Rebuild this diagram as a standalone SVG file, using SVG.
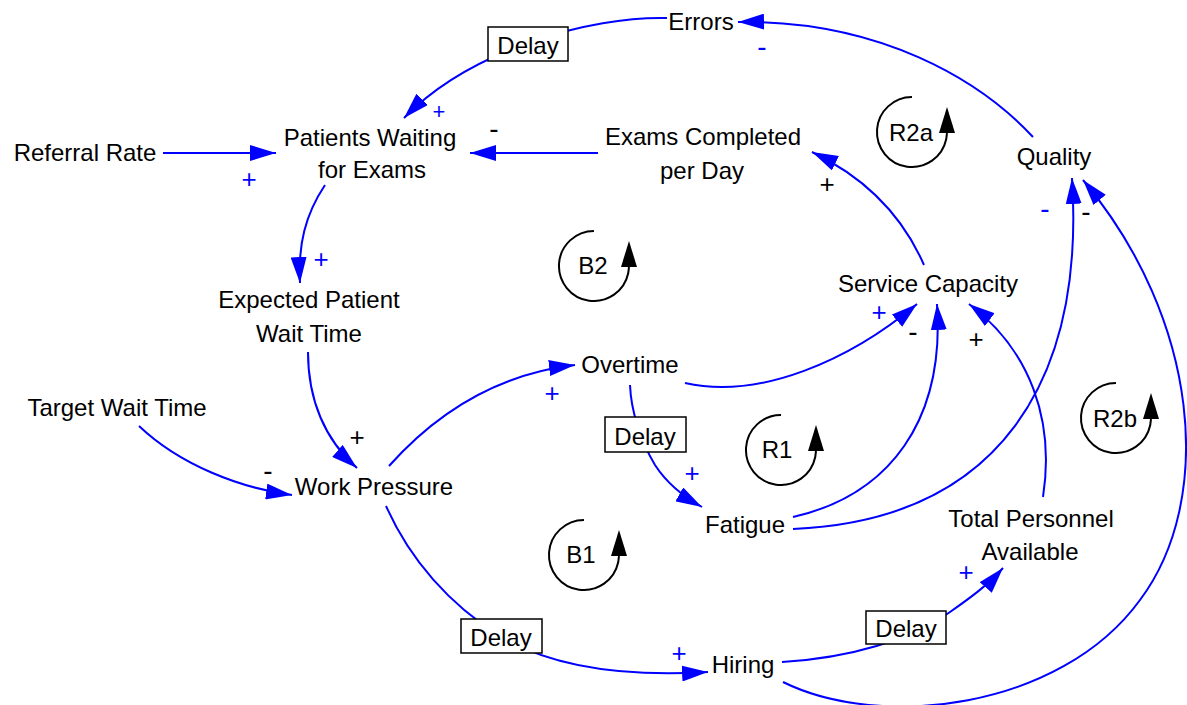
<svg xmlns="http://www.w3.org/2000/svg" width="1187" height="705" viewBox="0 0 1187 705">
<defs>
<marker id="arr" markerUnits="userSpaceOnUse" markerWidth="26" markerHeight="16" refX="26" refY="8" orient="auto"><path d="M0,0 L26,8 L0,16 z" fill="#0000FF"/></marker>
</defs>
<style>
text{font-family:"Liberation Sans",Arial,sans-serif;font-size:24px;fill:#000;text-anchor:middle}
.c{fill:none;stroke:#0000FF;stroke-width:2;marker-end:url(#arr)}
.s{font-size:26px}
.m{font-size:28px}
.b{fill:#0000FF}
.box{fill:#fff;stroke:#000;stroke-width:1.5}
.loop{fill:none;stroke:#000;stroke-width:2}
.lh{fill:#000}
</style>
<rect width="1187" height="705" fill="#fff"/>
<g id="connectors">
<path class="c" d="M667,18 C590,16 470,50 404,118"/>
<path class="c" d="M598,153 L470,153"/>
<path class="c" d="M163,153 L276,153"/>
<path class="c" d="M325,185 C305,215 298,245 300,283"/>
<path class="c" d="M308,352 C308,400 325,440 357,468"/>
<path class="c" d="M139,426 C180,465 240,488 292,495"/>
<path class="c" d="M389,466 C430,420 490,375 575,365"/>
<path class="c" d="M386,506 C410,560 450,605 500,636 C560,672 640,676 708,672"/>
<path class="c" d="M630,385 C631,410 640,440 655,465 C668,485 684,497 702,507"/>
<path class="c" d="M685,383 C760,400 850,360 917,304"/>
<path class="c" d="M793,517 C890,495 945,420 937,304"/>
<path class="c" d="M793,529 C1000,520 1085,380 1072,178"/>
<path class="c" d="M783,682 C880,730 1060,710 1140,600 C1215,500 1200,320 1083,180"/>
<path class="c" d="M782,662 C850,658 910,640 950,612 C970,598 988,585 1003,568"/>
<path class="c" d="M1043,497 C1055,420 1030,350 969,304"/>
<path class="c" d="M924,265 C900,210 860,175 812,152"/>
<path class="c" d="M1033,137 C980,80 880,20 738,22"/>
</g>
<g id="signs">
<text class="b" style="font-size:22px" x="439" y="119">+</text>
<text class="m b" x="762" y="56">-</text>
<text class="m" x="494" y="138">-</text>
<text class="s b" x="249" y="188">+</text>
<text class="s b" x="321" y="268">+</text>
<text class="s" x="357" y="446">+</text>
<text class="m" x="268" y="480">-</text>
<text class="s b" x="552" y="402">+</text>
<text class="s b" x="679" y="662">+</text>
<text class="s b" x="692" y="482">+</text>
<text class="s b" x="879" y="321">+</text>
<text class="m" x="913" y="341">-</text>
<text class="m b" x="1045" y="218">-</text>
<text class="m" x="1086" y="221">-</text>
<text class="s b" x="966" y="581">+</text>
<text class="s" x="976" y="348">+</text>
<text class="s" x="827" y="193">+</text>
</g>
<g id="delay1"><rect class="box" x="488" y="27" width="80" height="34"/><text x="528" y="54">Delay</text></g>
<g id="delay2"><rect class="box" x="605" y="417" width="81" height="35"/><text x="645" y="445">Delay</text></g>
<g id="delay3"><rect class="box" x="461" y="619" width="81" height="34"/><text x="501" y="646">Delay</text></g>
<g id="delay4"><rect class="box" x="866" y="611" width="80" height="33"/><text x="906" y="637">Delay</text></g>
<g id="errors"><text x="701" y="30">Errors</text></g>
<g id="patients"><text x="370" y="146">Patients Waiting</text><text x="372" y="178">for Exams</text></g>
<g id="referral"><text x="85" y="161">Referral Rate</text></g>
<g id="exams"><text x="703" y="145">Exams Completed</text><text x="702" y="179">per Day</text></g>
<g id="quality"><text x="1054" y="165">Quality</text></g>
<g id="service"><text x="928" y="292">Service Capacity</text></g>
<g id="expected"><text x="309" y="308">Expected Patient</text><text x="309" y="342">Wait Time</text></g>
<g id="target"><text x="117" y="416">Target Wait Time</text></g>
<g id="workpressure"><text x="374" y="495">Work Pressure</text></g>
<g id="overtime"><text x="630" y="373">Overtime</text></g>
<g id="fatigue"><text x="745" y="533">Fatigue</text></g>
<g id="hiring"><text x="743" y="673">Hiring</text></g>
<g id="personnel"><text x="1031" y="527">Total Personnel</text><text x="1030" y="560">Available</text></g>
<g id="loopR2a"><path class="loop" d="M912,97 A35,35 0 1 0 946.2,139.3 L947,133"/><polygon class="lh" points="947,107 939,133 955,133"/><text x="911" y="141">R2a</text></g>
<g id="loopB2"><path class="loop" d="M594,231 A35,35 0 1 0 628.2,273.3 L629,267"/><polygon class="lh" points="629,241 621,267 637,267"/><text x="593" y="274">B2</text></g>
<g id="loopR1"><path class="loop" d="M781,415 A35,35 0 1 0 815.2,457.3 L816,451"/><polygon class="lh" points="816,425 808,451 824,451"/><text x="777" y="458">R1</text></g>
<g id="loopB1"><path class="loop" d="M584,520 A35,35 0 1 0 618.2,562.3 L619,556"/><polygon class="lh" points="619,530 611,556 627,556"/><text x="581" y="563">B1</text></g>
<g id="loopR2b"><path class="loop" d="M1116,383 A35,35 0 1 0 1150.2,425.3 L1151,419"/><polygon class="lh" points="1151,393 1143,419 1159,419"/><text x="1115" y="427">R2b</text></g>
</svg>
